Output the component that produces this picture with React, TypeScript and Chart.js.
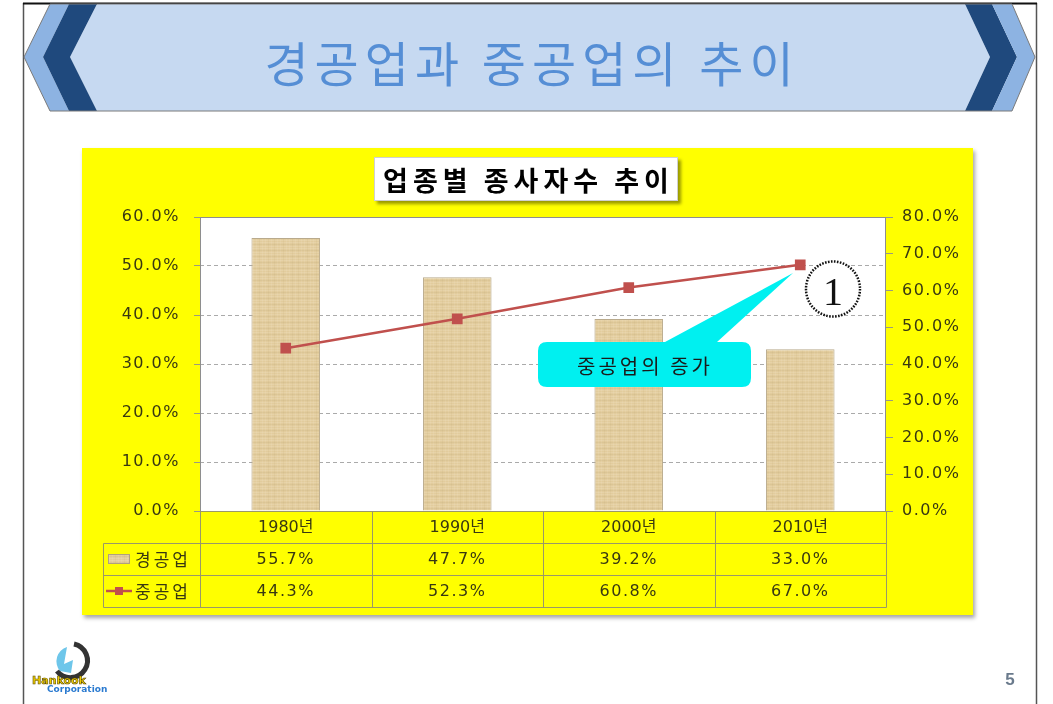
import React, { useEffect, useRef } from 'react';
import { Chart, registerables } from 'chart.js';

Chart.register(...registerables);

// ---- data ----
const years = ['1980년', '1990년', '2000년', '2010년'];
const lightIndustry = [55.7, 47.7, 39.2, 33.0];
const heavyIndustry = [44.3, 52.3, 60.8, 67.0];
const seriesLabels = ['경공업', '중공업'];
const leftAxisMax = 60;
const rightAxisMax = 80;
const tickStep = 10;

const slideTitle = '경공업과 중공업의 추이';
const chartTitle = '업종별 종사자수 추이';
const calloutText = '중공업의 증가';
const pageNumber = '5';

const pct = (v: number) => v.toFixed(1) + '%';
const TEXT_COLOR = '#383812';
const TABLE_LINE = '#9a9868';
const LINE_COLOR = '#c0504d';

function makeTexture(): any {
  const c = document.createElement('canvas');
  c.width = 24;
  c.height = 24;
  const g = c.getContext('2d');
  if (!g) return '#e2cc9e';
  g.fillStyle = '#e2cc9d';
  g.fillRect(0, 0, 24, 24);
  for (let y = 0; y < 24; y += 2) {
    g.fillStyle = y % 6 === 0 ? 'rgba(175,145,95,0.12)' : 'rgba(255,250,235,0.14)';
    g.fillRect(0, y, 24, 1);
  }
  for (let x = 0; x < 24; x += 3) {
    g.fillStyle = x % 9 === 0 ? 'rgba(170,140,90,0.08)' : 'rgba(255,248,230,0.1)';
    g.fillRect(x, 0, 1, 24);
  }
  return g.createPattern(c, 'repeat') || '#e2cc9e';
}

export default function App() {
  const canvasRef = useRef<HTMLCanvasElement | null>(null);

  useEffect(() => {
    const canvas = canvasRef.current;
    if (!canvas) return;
    const texture = makeTexture();

    const slidePlugin = {
      id: 'slideTable',
      beforeDraw(chart: any) {
        const { ctx, chartArea: a } = chart;
        ctx.save();
        ctx.fillStyle = '#ffffff';
        ctx.fillRect(a.left, a.top, a.right - a.left, a.bottom - a.top);
        ctx.restore();
        ctx.letterSpacing = '1.5px';
      },
      beforeDatasetsDraw(chart: any) {
        const { ctx, chartArea: a } = chart;
        ctx.letterSpacing = '0px';
        ctx.save();
        ctx.strokeStyle = '#8e8e8e';
        ctx.lineWidth = 1;
        ctx.strokeRect(a.left + 0.5, a.top + 0.5, a.right - a.left - 1, a.bottom - a.top);
        ctx.restore();
      },
      afterDraw(chart: any) {
        const { ctx, chartArea: a } = chart;
        const xs = chart.scales.x;
        const n = years.length;
        const colW = (a.right - a.left) / n;
        const rowH = 32;
        const rows = [a.bottom, a.bottom + rowH, a.bottom + rowH * 2, a.bottom + rowH * 3];
        const legendLeft = 21;
        ctx.save();
        ctx.strokeStyle = TABLE_LINE;
        ctx.lineWidth = 1;
        const line = (x1: number, y1: number, x2: number, y2: number) => {
          ctx.beginPath();
          ctx.moveTo(Math.round(x1) + 0.5, Math.round(y1) + 0.5);
          ctx.lineTo(Math.round(x2) + 0.5, Math.round(y2) + 0.5);
          ctx.stroke();
        };
        line(a.left, rows[0], a.right, rows[0]);
        for (let r = 1; r < 4; r++) line(legendLeft, rows[r], a.right, rows[r]);
        line(legendLeft, rows[1], legendLeft, rows[3]);
        for (let i = 0; i <= n; i++) {
          const cx = i < n ? xs.getPixelForValue(i) - colW / 2 : xs.getPixelForValue(n - 1) + colW / 2;
          line(cx, rows[0], cx, rows[3]);
        }

        ctx.fillStyle = TEXT_COLOR;
        ctx.textAlign = 'center';
        ctx.textBaseline = 'middle';
        ctx.font = "16px 'DejaVu Sans', 'Noto Sans CJK KR'";
        ctx.letterSpacing = '0px';
        years.forEach((y, i) => {
          ctx.fillText(y, xs.getPixelForValue(i), (rows[0] + rows[1]) / 2 + 1);
        });
        ctx.letterSpacing = '1.5px';
        lightIndustry.forEach((v, i) => {
          ctx.fillText(pct(v), xs.getPixelForValue(i), (rows[1] + rows[2]) / 2 + 1);
        });
        heavyIndustry.forEach((v, i) => {
          ctx.fillText(pct(v), xs.getPixelForValue(i), (rows[2] + rows[3]) / 2 + 1);
        });

        // legend labels
        ctx.textAlign = 'left';
        ctx.font = "17px 'Noto Sans CJK KR'";
        ctx.letterSpacing = '3px';
        const y1 = (rows[1] + rows[2]) / 2;
        const y2 = (rows[2] + rows[3]) / 2;
        ctx.fillText(seriesLabels[0], legendLeft + 32, y1 + 1);
        ctx.fillText(seriesLabels[1], legendLeft + 32, y2 + 1);
        ctx.letterSpacing = '0px';
        // swatch
        ctx.fillStyle = texture;
        ctx.fillRect(legendLeft + 5, y1 - 5, 22, 10);
        ctx.strokeStyle = '#b0a080';
        ctx.strokeRect(legendLeft + 5.5, y1 - 4.5, 21, 9);
        // line symbol
        ctx.strokeStyle = LINE_COLOR;
        ctx.lineWidth = 2.5;
        ctx.beginPath();
        ctx.moveTo(legendLeft + 3, y2);
        ctx.lineTo(legendLeft + 29, y2);
        ctx.stroke();
        ctx.fillStyle = LINE_COLOR;
        ctx.fillRect(legendLeft + 12, y2 - 4, 8, 8);
        ctx.restore();
      },
    };

    const chart = new Chart(canvas, {
      data: {
        labels: years,
        datasets: [
          {
            type: 'line',
            label: seriesLabels[1],
            data: heavyIndustry,
            yAxisID: 'y1',
            borderColor: LINE_COLOR,
            backgroundColor: LINE_COLOR,
            borderWidth: 2.5,
            pointStyle: 'rect',
            pointRadius: 5.8,
            pointBackgroundColor: LINE_COLOR,
            pointBorderColor: LINE_COLOR,
            tension: 0,
            order: 1,
          },
          {
            type: 'bar',
            label: seriesLabels[0],
            data: lightIndustry,
            yAxisID: 'y',
            backgroundColor: texture,
            borderColor: '#b9aa8c',
            borderWidth: 1,
            barPercentage: 0.4,
            categoryPercentage: 1,
            order: 2,
          },
        ],
      } as any,
      options: {
        responsive: false,
        devicePixelRatio: 1,
        animation: false,
        layout: { padding: { top: 69, bottom: 104, left: 0, right: 0 } },
        plugins: {
          legend: { display: false },
          tooltip: { enabled: false },
          title: { display: false },
        },
        scales: {
          x: { display: false, offset: true },
          y: {
            position: 'left',
            min: 0,
            max: leftAxisMax,
            afterFit: (s: any) => {
              s.width = 118;
            },
            ticks: {
              stepSize: tickStep,
              padding: 14,
              color: TEXT_COLOR,
              font: { family: 'DejaVu Sans', size: 16 },
              callback: (v: any) => pct(Number(v)),
            },
            grid: {
              color: '#aaaaaa',
              lineWidth: 1,
              tickLength: 6,
              tickColor: '#9a9a80',
            },
            border: { display: false, dash: [4, 3] },
          },
          y1: {
            position: 'right',
            min: 0,
            max: rightAxisMax,
            afterFit: (s: any) => {
              s.width = 87;
            },
            ticks: {
              stepSize: tickStep,
              padding: 9,
              color: TEXT_COLOR,
              font: { family: 'DejaVu Sans', size: 16 },
              callback: (v: any) => pct(Number(v)),
            },
            grid: {
              drawOnChartArea: false,
              tickLength: 7,
              tickColor: '#9a9a80',
            },
            border: { display: false },
          },
        },
      } as any,
      plugins: [slidePlugin],
    });

    return () => {
      chart.destroy();
    };
  }, []);

  return (
    <div
      style={{
        position: 'fixed',
        left: 0,
        top: 0,
        width: 1053,
        height: 704,
        background: '#ffffff',
        overflow: 'hidden',
        fontFamily: "'Noto Sans CJK KR', sans-serif",
      }}
    >
      <div
        style={{
          position: 'absolute',
          left: 82,
          top: 148,
          width: 891,
          height: 467,
          background: '#ffff00',
          boxShadow: '2px 3px 4px rgba(0,0,0,0.35)',
        }}
      >
        <canvas ref={canvasRef} width={891} height={467} style={{ display: 'block' }} />
      </div>

      <svg
        width={1053}
        height={704}
        style={{ position: 'absolute', left: 0, top: 0, pointerEvents: 'none' }}
      >
        {/* slide frame */}
        <line x1={23.5} y1={3} x2={23.5} y2={704} stroke="#555" strokeWidth={1.5} />
        <line x1={1036.5} y1={3} x2={1036.5} y2={704} stroke="#555" strokeWidth={1.5} />
        <line x1={23} y1={3.5} x2={1037} y2={3.5} stroke="#111" strokeWidth={2} />
        {/* banner */}
        <polygon points="97,4 965,4 990,57 965,111 97,111 70,57" fill="#c6d9f1" />
        <polygon points="50,4 69,4 43,57 69,111 50,111 24,57" fill="#8db3e2" />
        <polygon points="69,4 97,4 70,57 97,111 69,111 43,57" fill="#1f497d" />
        <polygon points="965,4 992,4 1017,57 992,111 965,111 990,57" fill="#1f497d" />
        <polygon points="992,4 1012,4 1035,57 1012,111 992,111 1017,57" fill="#8db3e2" />
        <polygon
          points="50,4 1012,4 1035,57 1012,111 50,111 24,57"
          fill="none"
          stroke="#7a7a7a"
          strokeWidth={1}
        />
        <text
          x={532}
          y={61}
          textAnchor="middle"
          dominantBaseline="central"
          fontFamily="'Noto Sans CJK KR'"
          fontSize={48}
          letterSpacing={6}
          fill="#558ed5"
        >
          {slideTitle}
        </text>

        {/* callout */}
        <path
          d="M547,342 L665,342 L793,273 L717,342 L742,342 Q751,342 751,351 L751,378 Q751,387 742,387 L547,387 Q538,387 538,378 L538,351 Q538,342 547,342 Z"
          fill="#00f0f0"
        />
        <text
          x={645}
          y={365}
          textAnchor="middle"
          dominantBaseline="central"
          fontFamily="'Noto Sans CJK KR'"
          fontSize={20}
          letterSpacing={3}
          fill="#1a1a1a"
        >
          {calloutText}
        </text>

        {/* numbered circle */}
        <ellipse cx={833} cy={289} rx={27} ry={27.5} fill="#ffffff" stroke="#111" strokeWidth={2.5} strokeDasharray="1.6 1.4" />
        <text
          x={833}
          y={291}
          textAnchor="middle"
          dominantBaseline="central"
          fontFamily="'Liberation Serif', 'DejaVu Serif', serif"
          fontSize={40}
          fill="#111"
        >
          1
        </text>

        {/* logo */}
        <path d="M74,644 A17,17 0 1 1 57,671" fill="none" stroke="#333" strokeWidth={5} />
        <path d="M67,647 L64,664 L73,660 L71,673 L60,671 A15,15 0 0 1 67,647 Z" fill="#6ec6ea" />
        <text x={32} y={684} fontFamily="'DejaVu Sans'" fontWeight={700} fontSize={11} fill="#f2d000" stroke="#5a4a00" strokeWidth={0.6}>
          Hankook
        </text>
        <text x={47} y={692} fontFamily="'DejaVu Sans'" fontWeight={700} fontSize={9} fill="#2a7ad0">
          Corporation
        </text>

        {/* page number */}
        <text
          x={1010}
          y={679}
          textAnchor="middle"
          dominantBaseline="central"
          fontFamily="'Liberation Sans', sans-serif"
          fontWeight={700}
          fontSize={17}
          fill="#6a7a8c"
        >
          {pageNumber}
        </text>
      </svg>

      <div
        style={{
          position: 'absolute',
          left: 374,
          top: 157,
          width: 304,
          height: 44,
          background: '#ffffff',
          border: '1px solid #d0d0d0',
          boxSizing: 'border-box',
          boxShadow: '3px 3px 3px rgba(0,0,0,0.4)',
          display: 'flex',
          alignItems: 'center',
          justifyContent: 'center',
          fontFamily: "'Noto Sans CJK KR', sans-serif",
          fontWeight: 700,
          fontSize: 27,
          letterSpacing: 5,
          color: '#000',
          whiteSpace: 'nowrap',
          paddingLeft: 5,
        }}
      >
        {chartTitle}
      </div>
    </div>
  );
}
